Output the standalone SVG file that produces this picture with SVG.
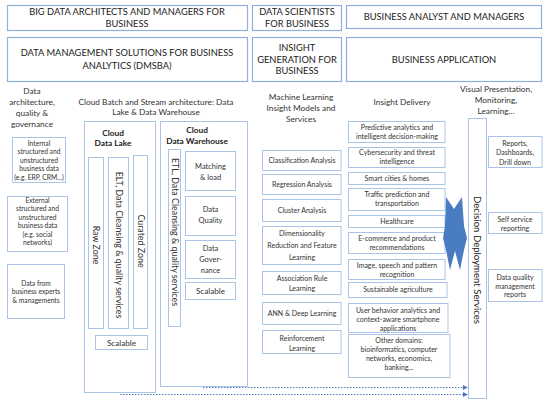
<svg xmlns="http://www.w3.org/2000/svg" width="550" height="407" viewBox="0 0 550 407">
<defs>
<style>
.h{fill:#fff;stroke:#8fb0dc;stroke-width:1.2}
.b{fill:#fff;stroke:#aac4e8;stroke-width:1}
text{font-family:Lato,"Liberation Sans",sans-serif;fill:#333;text-anchor:middle}
.t1{font-size:9.3px;fill:#222}
.t2{font-size:8.3px}
.t3{font-size:7px}
.tl{font-size:6.7px}
.t4{font-size:7.5px}
.t5{font-size:8.2px}
.bd{font-size:8.3px;font-weight:bold;fill:#222}
.rot{font-size:8.9px}
.dds{font-size:9.6px;fill:#222}
.con{fill:none;stroke:#4a78c0;stroke-width:1;stroke-dasharray:1.5 1.5}
</style>
<marker id="ah" viewBox="0 0 6 6" refX="5" refY="3" markerWidth="5" markerHeight="5" orient="auto" markerUnits="userSpaceOnUse">
<path d="M0,0 L6,3 L0,6 Z" fill="#4a78c0"/>
</marker>
</defs>
<rect width="550" height="407" fill="#fff"/>

<g id="roles">
<g id="n-bigdata"><rect class="h" x="7.5" y="5.5" width="240" height="25"/><text class="t1" x="127" y="15">BIG DATA ARCHITECTS AND MANAGERS FOR</text><text class="t1" x="127" y="27">BUSINESS</text></g>
<g id="n-datasci"><rect class="h" x="252.5" y="5.5" width="89" height="25"/><text class="t1" x="297" y="15">DATA SCIENTISTS</text><text class="t1" x="297" y="27">FOR BUSINESS</text></g>
<g id="n-analyst"><rect class="h" x="346.5" y="5.5" width="195" height="23"/><text class="t1" x="444" y="20">BUSINESS ANALYST AND MANAGERS</text></g>
<g id="n-dmsba"><rect class="h" x="7.5" y="37.5" width="240" height="44"/><text class="t1" x="127" y="56">DATA MANAGEMENT SOLUTIONS FOR BUSINESS</text><text class="t1" x="127" y="69">ANALYTICS (DMSBA)</text></g>
<g id="n-insight"><rect class="h" x="252.5" y="37.5" width="89" height="44"/><text class="t1" x="297" y="51">INSIGHT</text><text class="t1" x="297" y="62.5">GENERATION FOR</text><text class="t1" x="297" y="74">BUSINESS</text></g>
<g id="n-bizapp"><rect class="h" x="346.5" y="37.5" width="195" height="44"/><text class="t1" x="444" y="63">BUSINESS APPLICATION</text></g>
</g>

<g id="headers">
<text class="t2" x="32" y="94">Data</text><text class="t2" x="32" y="105">architecture,</text><text class="t2" x="32" y="116">quality &amp;</text><text class="t2" x="32" y="127">governance</text>
<text class="t2" x="156" y="104.5">Cloud Batch and Stream architecture: Data</text><text class="t2" x="156" y="115">Lake &amp; Data Warehouse</text>
<text class="t2" x="301" y="100">Machine Learning</text><text class="t2" x="301" y="111">Insight Models and</text><text class="t2" x="301" y="121.5">Services</text>
<text class="t2" x="402" y="105">Insight Delivery</text>
<text class="t2" x="496" y="92">Visual Presentation,</text><text class="t2" x="496" y="103">Monitoring,</text><text class="t2" x="496" y="114">Learning...</text>
</g>

<g id="n-internal"><rect class="b" x="12.5" y="137.5" width="53" height="45"/>
<text class="tl" x="39" y="145.5">Internal</text><text class="tl" x="39" y="154">structured and</text><text class="tl" x="39" y="162.5">unstructured</text><text class="tl" x="39" y="171">business data</text><text class="tl" x="39" y="179.5">(e.g. ERP, CRM...)</text></g>
<g id="n-external"><rect class="b" x="7.5" y="196.5" width="60" height="55"/>
<text class="tl" x="37.5" y="202.5">External</text><text class="tl" x="37.5" y="211">structured and</text><text class="tl" x="37.5" y="219.5">unstructured</text><text class="tl" x="37.5" y="228">business data</text><text class="tl" x="37.5" y="236.5">(e.g. social</text><text class="tl" x="37.5" y="245">networks)</text></g>
<g id="n-experts"><rect class="b" x="7.5" y="264.5" width="57" height="54"/>
<text class="tl" x="36" y="285.5">Data from</text><text class="tl" x="36" y="294">business experts</text><text class="tl" x="36" y="302.5">&amp; managements</text></g>

<g id="n-datalake"><rect class="b" x="84.5" y="121.5" width="71" height="271"/>
<text class="bd" x="113" y="136">Cloud</text><text class="bd" x="113" y="146">Data Lake</text>
<rect class="b" x="88.5" y="157.5" width="15" height="171"/>
<text class="rot" transform="translate(96,245) rotate(90)" dy="3">Raw Zone</text>
<rect class="b" x="108.5" y="157.5" width="20" height="171"/>
<text class="rot" transform="translate(118.5,245) rotate(90)" dy="3">ELT, Data Cleansing &amp; quality services</text>
<rect class="b" x="133.5" y="155.5" width="14" height="173"/>
<text class="rot" transform="translate(140.5,241) rotate(90)" dy="3">Curated Zone</text>
<rect class="b" x="95.5" y="335.5" width="52" height="14"/>
<text class="t5" x="121.5" y="345.5">Scalable</text>
</g>

<g id="n-warehouse"><rect class="b" x="160.5" y="121.5" width="87" height="265"/>
<text class="bd" x="197" y="133">Cloud</text><text class="bd" x="197" y="144">Data Warehouse</text>
<rect class="b" x="168.5" y="149.5" width="12" height="177"/>
<text class="rot" transform="translate(174.5,232) rotate(90)" dy="3">ETL, Data Cleansing &amp; quality services</text>
<rect class="b" x="185.5" y="151.5" width="50" height="39"/>
<text class="t4" x="210.5" y="168.5">Matching</text><text class="t4" x="210.5" y="179.5">&amp; load</text>
<rect class="b" x="185.5" y="196.5" width="50" height="39"/>
<text class="t4" x="210.5" y="211.5">Data</text><text class="t4" x="210.5" y="222.5">Quality</text>
<rect class="b" x="185.5" y="240.5" width="50" height="38"/>
<text class="t4" x="210.5" y="250.5">Data</text><text class="t4" x="210.5" y="261.5">Gover-</text><text class="t4" x="210.5" y="273">nance</text>
<rect class="b" x="185.5" y="282.5" width="50" height="17"/>
<text class="t5" x="210.5" y="294">Scalable</text>
</g>

<g id="ml">
<g id="n-class"><rect class="b" x="262.5" y="150.5" width="78.5" height="20"/><text class="t3" x="302" y="162.5">Classification Analysis</text></g>
<g id="n-regr"><rect class="b" x="262.5" y="174.5" width="78.5" height="20"/><text class="t3" x="302" y="186.5">Regression Analysis</text></g>
<g id="n-clust"><rect class="b" x="262.5" y="199.5" width="78.5" height="22"/><text class="t3" x="302" y="212.5">Cluster Analysis</text></g>
<g id="n-dim"><rect class="b" x="262.5" y="226.5" width="78.5" height="38"/><text class="t3" x="302" y="235.5">Dimensionality</text><text class="t3" x="302" y="247.5">Reduction and Feature</text><text class="t3" x="302" y="259.5">Learning</text></g>
<g id="n-assoc"><rect class="b" x="262.5" y="271.5" width="78.5" height="23"/><text class="t3" x="302" y="280.5">Association Rule</text><text class="t3" x="302" y="290.5">Learning</text></g>
<g id="n-ann"><rect class="b" x="262.5" y="302.5" width="78.5" height="22"/><text class="t3" x="302" y="316">ANN &amp; Deep Learning</text></g>
<g id="n-rl"><rect class="b" x="262.5" y="330.5" width="78.5" height="23"/><text class="t3" x="302" y="340.5">Reinforcement</text><text class="t3" x="302" y="350.5">Learning</text></g>
</g>

<g id="delivery">
<g id="n-pred"><rect class="b" x="348.5" y="121.5" width="96.5" height="21"/><text class="t3" x="397" y="129.5">Predictive analytics and</text><text class="t3" x="397" y="138.5">intelligent decision-making</text></g>
<g id="n-cyber"><rect class="b" x="348.5" y="147.5" width="96.5" height="20"/><text class="t3" x="397" y="154.5">Cybersecurity and threat</text><text class="t3" x="397" y="163.5">intelligence</text></g>
<g id="n-smart"><rect class="b" x="348.5" y="172.5" width="96.5" height="12"/><text class="t3" x="397" y="180.8">Smart cities &amp; homes</text></g>
<g id="n-traffic"><rect class="b" x="348.5" y="188.5" width="96.5" height="22"/><text class="t3" x="397" y="196.5">Traffic prediction and</text><text class="t3" x="397" y="205.5">transportation</text></g>
<g id="n-health"><rect class="b" x="348.5" y="215.5" width="96.5" height="12"/><text class="t3" x="397" y="224">Healthcare</text></g>
<g id="n-ecom"><rect class="b" x="348.5" y="232.5" width="96.5" height="21"/><text class="t3" x="397" y="241">E-commerce and product</text><text class="t3" x="397" y="250">recommendations</text></g>
<g id="n-image"><rect class="b" x="348.5" y="259.5" width="96.5" height="20"/><text class="t3" x="397" y="267.5">Image, speech and pattern</text><text class="t3" x="397" y="276.5">recognition</text></g>
<g id="n-agri"><rect class="b" x="348.5" y="282.5" width="98.5" height="15"/><text class="t3" x="398" y="292.3">Sustainable agriculture</text></g>
<g id="n-user"><rect class="b" x="348.5" y="303.5" width="99.5" height="29"/><text class="t3" x="398" y="312.5">User behavior analytics and</text><text class="t3" x="398" y="321.5">context-aware smartphone</text><text class="t3" x="398" y="330.5">applications</text></g>
<g id="n-other"><rect class="b" x="348.5" y="334.5" width="101.5" height="43"/><text class="t3" x="399" y="342.5">Other domains:</text><text class="t3" x="399" y="351.5">bioinformatics, computer</text><text class="t3" x="399" y="360.5">networks, economics,</text><text class="t3" x="399" y="369.5">banking...</text></g>
</g>

<g id="n-arrow"><polygon points="446,197 454,209 462,197 464,226 467,238 464,250 460,270 455,251 450,270 446,250 443,238 445,226" fill="#4a7cc2"/></g>

<g id="n-dds"><rect class="b" x="468.5" y="118.5" width="18" height="280"/>
<text class="dds" transform="translate(477.5,260) rotate(90)" dy="3.4">Decision Deployment Services</text></g>

<g id="visual">
<g id="n-reports"><rect class="b" x="488.5" y="136.5" width="53.5" height="31"/><text class="t3" x="515" y="145.5">Reports,</text><text class="t3" x="515" y="155">Dashboards,</text><text class="t3" x="515" y="164.5">Drill down</text></g>
<g id="n-self"><rect class="b" x="488.5" y="212.5" width="53.5" height="21"/><text class="t3" x="515" y="221.5">Self service</text><text class="t3" x="515" y="230.5">reporting</text></g>
<g id="n-dqm"><rect class="b" x="488.5" y="269.5" width="53.5" height="32"/><text class="t3" x="515" y="279.5">Data quality</text><text class="t3" x="515" y="288.5">management</text><text class="t3" x="515" y="297">reports</text></g>
</g>

<g id="connectors">
<path class="con" d="M203,387.5 H467" marker-end="url(#ah)"/>
<path class="con" d="M120,394.5 H467" marker-end="url(#ah)"/>
</g>
</svg>
